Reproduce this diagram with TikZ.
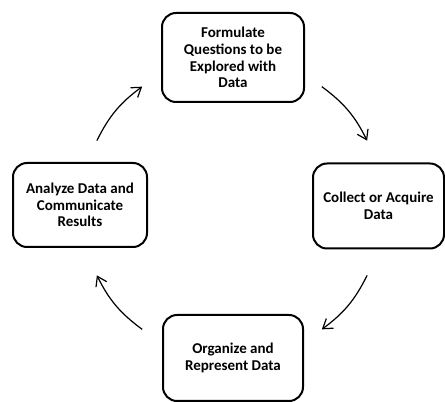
\documentclass[tikz,border=0pt]{standalone}
\usepackage{fontspec}
\setmainfont{Carlito}
\usetikzlibrary{arrows.meta}
\begin{document}
\begin{tikzpicture}[x=1pt,y=1pt,
  stagebox/.style={draw=black, line width=2pt, rounded corners=14pt, align=center,
    font=\fontsize{15}{16.7}\selectfont\bfseries, inner sep=1pt},
  cyclearrow/.style={line width=1.2pt, -{Straight Barb[length=9pt,width=12pt,line width=1.2pt]}}
]
\useasboundingbox (0,0) rectangle (445,402);
\node[stagebox, minimum width=142pt, minimum height=89pt] (top) at (233,344.5)
  {Formulate\\Questions to be\\Explored with\\Data};
\node[stagebox, minimum width=131pt, minimum height=85pt] (right) at (378.5,196)
  {Collect or Acquire\\Data};
\node[stagebox, minimum width=140pt, minimum height=86pt] (bottom) at (233,44)
  {Organize and\\Represent Data};
\node[stagebox, minimum width=134pt, minimum height=84pt] (left) at (80,197)
  {Analyze Data and\\Communicate\\Results};
\coordinate (c) at (232,194);
\path (c) ++(53.5:151) coordinate (a1s);
\path (c) ++(26.5:151) coordinate (a1e);
\path (c) ++(-26.5:151) coordinate (a2s);
\path (c) ++(-53.5:151) coordinate (a2e);
\path (c) ++(-126.5:151) coordinate (a3s);
\path (c) ++(-153.5:151) coordinate (a3e);
\path (c) ++(153.5:151) coordinate (a4s);
\path (c) ++(126.5:151) coordinate (a4e);
\draw[cyclearrow] (a1s) to[bend left=13.5] (a1e);
\draw[cyclearrow] (a2s) to[bend left=13.5] (a2e);
\draw[cyclearrow] (a3s) to[bend left=13.5] (a3e);
\draw[cyclearrow] (a4s) to[bend left=13.5] (a4e);
\end{tikzpicture}
\end{document}
